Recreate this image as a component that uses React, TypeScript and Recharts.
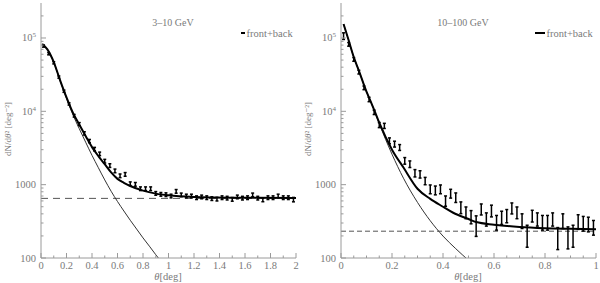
import React from 'react';
import { ComposedChart, Line, Scatter, XAxis, YAxis, ErrorBar, ReferenceLine } from 'recharts';

// ---------- data: 3-10 GeV ----------
const leftTheta = [0.02, 0.06, 0.10, 0.14, 0.18, 0.22, 0.26, 0.30, 0.34, 0.38, 0.42, 0.46, 0.50, 0.54, 0.58, 0.62, 0.66, 0.70, 0.74, 0.78, 0.82, 0.86, 0.90, 0.94, 0.98, 1.02, 1.06, 1.10, 1.14, 1.18, 1.22, 1.26, 1.30, 1.34, 1.38, 1.42, 1.46, 1.50, 1.54, 1.58, 1.62, 1.66, 1.70, 1.74, 1.78, 1.82, 1.86, 1.90, 1.94, 1.98];
const leftCounts = [77600, 61000, 45900, 29300, 18800, 12600, 8700, 6700, 5000, 3930, 3050, 2630, 2090, 1820, 1540, 1320, 1380, 1030, 1010, 880, 880, 880, 760, 738, 730, 700, 810, 725, 700, 700, 664, 680, 664, 645, 635, 664, 655, 630, 680, 655, 664, 725, 655, 620, 664, 664, 700, 664, 664, 625];
const leftErrDex = [0.015, 0.015, 0.015, 0.015, 0.015, 0.015, 0.018, 0.02, 0.022, 0.022, 0.024, 0.024, 0.025, 0.025, 0.025, 0.025, 0.025, 0.025, 0.025, 0.025, 0.025, 0.025, 0.025, 0.025, 0.025, 0.025, 0.025, 0.025, 0.025, 0.025, 0.025, 0.025, 0.025, 0.025, 0.025, 0.025, 0.025, 0.025, 0.025, 0.025, 0.025, 0.025, 0.025, 0.025, 0.025, 0.025, 0.025, 0.025, 0.025, 0.03];
const leftTotalTheta = [0.01, 0.05, 0.1, 0.15, 0.2, 0.25, 0.3, 0.35, 0.4, 0.45, 0.5, 0.55, 0.6, 0.65, 0.7, 0.8, 0.9, 1.0, 1.2, 1.5, 2.0];
const leftTotalModel = [83000, 70000, 47000, 26500, 15500, 9600, 6600, 4600, 3250, 2450, 1900, 1470, 1200, 1060, 960, 830, 755, 715, 680, 665, 660];
const leftPsfTheta = [0.01, 0.05, 0.1, 0.15, 0.2, 0.25, 0.3, 0.35, 0.4, 0.45, 0.5, 0.55, 0.6, 0.65, 0.7, 0.75, 0.8, 0.85, 0.9, 0.95];
const leftPsfModel = [83000, 70000, 47000, 26000, 15000, 9000, 5800, 3800, 2510, 1700, 1160, 813, 589, 437, 327, 248, 188, 145, 111, 86];
const leftBackground = 650;

// ---------- data: 10-100 GeV ----------
const rightTheta = [0.01, 0.03, 0.05, 0.07, 0.09, 0.11, 0.13, 0.15, 0.17, 0.19, 0.21, 0.23, 0.25, 0.27, 0.29, 0.31, 0.33, 0.35, 0.37, 0.39, 0.41, 0.43, 0.45, 0.47, 0.49, 0.51, 0.53, 0.55, 0.57, 0.59, 0.61, 0.63, 0.65, 0.67, 0.69, 0.71, 0.73, 0.75, 0.77, 0.79, 0.81, 0.83, 0.85, 0.87, 0.89, 0.91, 0.93, 0.95, 0.97, 0.99];
const rightCounts = [106000, 81900, 51000, 34200, 20900, 14500, 9690, 6500, 6330, 3960, 3570, 3210, 2110, 1900, 1430, 1380, 1120, 863, 834, 863, 597, 753, 664, 484, 413, 360, 272, 459, 335, 437, 302, 353, 372, 474, 413, 318, 198, 372, 335, 302, 302, 335, 184, 318, 188, 198, 309, 293, 286, 258];
const rightErrDex = [0.045, 0.025, 0.025, 0.025, 0.025, 0.03, 0.03, 0.035, 0.035, 0.04, 0.04, 0.04, 0.045, 0.045, 0.05, 0.05, 0.05, 0.06, 0.06, 0.06, 0.07, 0.06, 0.065, 0.08, 0.08, 0.09, 0.14, 0.075, 0.09, 0.08, 0.1, 0.09, 0.09, 0.075, 0.08, 0.1, 0.15, 0.08, 0.09, 0.1, 0.1, 0.09, 0.15, 0.1, 0.15, 0.15, 0.1, 0.1, 0.1, 0.1];
const rightTotalTheta = [0.01, 0.03, 0.05, 0.07, 0.1, 0.115, 0.13, 0.15, 0.2, 0.245, 0.3, 0.35, 0.4, 0.44, 0.5, 0.53, 0.6, 0.7, 0.8, 0.9, 1.0];
const rightTotalModel = [155000, 93000, 55000, 36000, 18500, 14000, 10500, 7000, 3000, 1710, 880, 640, 500, 414, 340, 309, 285, 265, 255, 250, 246];
const rightPsfTheta = [0.01, 0.03, 0.05, 0.07, 0.1, 0.115, 0.13, 0.15, 0.2, 0.245, 0.3, 0.35, 0.4, 0.45, 0.5];
const rightPsfModel = [155000, 93000, 55000, 36000, 18500, 14000, 10400, 6800, 2600, 1225, 573, 322, 199, 134, 93];
const rightBackground = 232;

// ---------- axis ticks ----------
const yMajor = [100, 1000, 10000, 100000];
const yTicks = [100, 200, 300, 400, 500, 600, 700, 800, 900, 1000, 2000, 3000, 4000, 5000, 6000, 7000, 8000, 9000, 10000, 20000, 30000, 40000, 50000, 60000, 70000, 80000, 90000, 100000, 200000];
const leftXTicks = [0, 0.1, 0.2, 0.3, 0.4, 0.5, 0.6, 0.7, 0.8, 0.9, 1, 1.1, 1.2, 1.3, 1.4, 1.5, 1.6, 1.7, 1.8, 1.9, 2];
const leftXLabels = [0, 0.2, 0.4, 0.6, 0.8, 1, 1.2, 1.4, 1.6, 1.8, 2];
const rightXTicks = [0, 0.05, 0.1, 0.15, 0.2, 0.25, 0.3, 0.35, 0.4, 0.45, 0.5, 0.55, 0.6, 0.65, 0.7, 0.75, 0.8, 0.85, 0.9, 0.95, 1];
const rightXLabels = [0, 0.2, 0.4, 0.6, 0.8, 1];

const W = 300;
const H = 283;
const GREY = '#9a9a9a';
const TEXT = '#7a7a7a';
const FONT = '"Liberation Serif", "DejaVu Serif", serif';

const pts = (xs: number[], ys: number[]) => xs.map((x, i) => ({ x, y: ys[i] }));
const errPts = (xs: number[], ys: number[], dex: number[]) =>
  xs.map((x, i) => {
    const f = Math.pow(10, dex[i]);
    return { x, y: ys[i], err: [ys[i] - ys[i] / f, ys[i] * f - ys[i]] };
  });

const yLabel = (v: number) => {
  if (v === 100000) return (<>10<tspan dy={-4} fontSize={7}>5</tspan></>);
  if (v === 10000) return (<>10<tspan dy={-4} fontSize={7}>4</tspan></>);
  return String(v);
};

const YTickLeft = (props: any) => {
  const { x, y, payload } = props;
  const v = payload.value;
  const major = yMajor.includes(v);
  return (
    <g>
      <line x1={x} x2={x + (major ? 5 : 2.5)} y1={y} y2={y} stroke={GREY} />
      {major && (
        <text x={x - 5} y={y} dy={3.5} textAnchor="end" fontSize={10.5} fill={TEXT} fontFamily={FONT}>
          {yLabel(v)}
        </text>
      )}
    </g>
  );
};

const YTickRight = (props: any) => {
  const { x, y, payload } = props;
  const major = yMajor.includes(payload.value);
  return <line x1={x} x2={x - (major ? 5 : 2.5)} y1={y} y2={y} stroke={GREY} />;
};

const makeXTickBottom = (labels: number[]) => (props: any) => {
  const { x, y, payload } = props;
  const v = payload.value;
  const major = labels.some((l) => Math.abs(l - v) < 1e-9);
  return (
    <g>
      <line x1={x} x2={x} y1={y} y2={y - (major ? 5 : 2.5)} stroke={GREY} />
      {major && (
        <text x={x} y={y + 11} textAnchor="middle" fontSize={10.5} fill={TEXT} fontFamily={FONT}>
          {String(v)}
        </text>
      )}
    </g>
  );
};

const makeXTickTop = (labels: number[]) => (props: any) => {
  const { x, y, payload } = props;
  const major = labels.some((l) => Math.abs(l - payload.value) < 1e-9);
  return <line x1={x} x2={x} y1={y} y2={y + (major ? 5 : 2.5)} stroke={GREY} />;
};

type PanelProps = {
  xMax: number;
  xTicks: number[];
  xLabels: number[];
  data: { x: number; y: number; err: number[] }[];
  total: { x: number; y: number }[];
  psf: { x: number; y: number }[];
  bg: number;
  dash: string;
  title: string;
  titleX: number;
  legendX1: number;
  legendX2: number;
};

const Panel = (p: PanelProps) => (
  <div style={{ position: 'relative', width: W, height: H }}>
    <ComposedChart width={W} height={H} margin={{ top: 3, right: 4, bottom: 0, left: 0 }}>
      <XAxis
        xAxisId="b"
        dataKey="x"
        type="number"
        domain={[0, p.xMax]}
        allowDataOverflow
        ticks={p.xTicks}
        interval={0}
        height={25}
        tickSize={0}
        tickMargin={0}
        tickLine={false}
        axisLine={{ stroke: GREY }}
        tick={makeXTickBottom(p.xLabels)}
      />
      <XAxis
        xAxisId="t"
        orientation="top"
        dataKey="x"
        type="number"
        domain={[0, p.xMax]}
        allowDataOverflow
        ticks={p.xTicks}
        interval={0}
        height={0}
        tickSize={0}
        tickMargin={0}
        tickLine={false}
        axisLine={{ stroke: GREY }}
        tick={makeXTickTop(p.xLabels)}
      />
      <YAxis
        yAxisId="l"
        type="number"
        scale="log"
        domain={[100, 300000]}
        allowDataOverflow
        ticks={yTicks}
        interval={0}
        width={41}
        tickSize={0}
        tickMargin={0}
        tickLine={false}
        axisLine={{ stroke: GREY }}
        tick={YTickLeft}
      />
      <YAxis
        yAxisId="r"
        orientation="right"
        type="number"
        scale="log"
        domain={[100, 300000]}
        allowDataOverflow
        ticks={yTicks}
        interval={0}
        width={0}
        tickSize={0}
        tickMargin={0}
        tickLine={false}
        axisLine={{ stroke: GREY }}
        tick={YTickRight}
      />
      <ReferenceLine xAxisId="b" yAxisId="l" y={p.bg} stroke="#555" strokeWidth={1} strokeDasharray={p.dash} />
      <Line xAxisId="b" yAxisId="l" data={p.psf} dataKey="y" type="monotone" dot={false} stroke="#333" strokeWidth={1} isAnimationActive={false} />
      <Line xAxisId="b" yAxisId="l" data={p.total} dataKey="y" type="monotone" dot={false} stroke="#000" strokeWidth={2} isAnimationActive={false} />
      <Scatter xAxisId="b" yAxisId="l" data={p.data} dataKey="y" shape={() => <g />} isAnimationActive={false}>
        <ErrorBar dataKey="err" direction="y" width={1.5} stroke="#000" strokeWidth={1.5} isAnimationActive={false} />
      </Scatter>
    </ComposedChart>
    <svg width={W} height={H} style={{ position: 'absolute', left: 0, top: 0, pointerEvents: 'none' }}>
      <text x={p.titleX} y={26} textAnchor="middle" fontSize={10} fill={TEXT} fontFamily={FONT}>{p.title}</text>
      <line x1={p.legendX1} x2={p.legendX2} y1={33} y2={33} stroke="#000" strokeWidth={2} />
      <text x={p.legendX2 + 1.5} y={36.5} fontSize={10.5} fill={TEXT} fontFamily={FONT}>front+back</text>
      <text transform="translate(11,129) rotate(-90)" textAnchor="middle" fontSize={9} fill={TEXT} fontFamily={FONT}>
        dN/d<tspan fontStyle="italic">θ</tspan>² [deg⁻²]
      </text>
      <text x={168} y={280} textAnchor="middle" fontSize={10.5} fill={TEXT} fontFamily={FONT}>
        <tspan fontStyle="italic">θ</tspan>[deg]
      </text>
    </svg>
  </div>
);

export default function App() {
  return (
    <div style={{ position: 'absolute', left: 0, top: 0, width: 600, height: 283, display: 'flex', background: '#fff' }}>
      <Panel
        xMax={2}
        xTicks={leftXTicks}
        xLabels={leftXLabels}
        data={errPts(leftTheta, leftCounts, leftErrDex)}
        total={pts(leftTotalTheta, leftTotalModel)}
        psf={pts(leftPsfTheta, leftPsfModel)}
        bg={leftBackground}
        dash="7 5"
        title="3–10 GeV"
        titleX={173}
        legendX1={241}
        legendX2={245}
      />
      <Panel
        xMax={1}
        xTicks={rightXTicks}
        xLabels={rightXLabels}
        data={errPts(rightTheta, rightCounts, rightErrDex)}
        total={pts(rightTotalTheta, rightTotalModel)}
        psf={pts(rightPsfTheta, rightPsfModel)}
        bg={rightBackground}
        dash="5 3"
        title="10–100 GeV"
        titleX={163}
        legendX1={235}
        legendX2={245}
      />
    </div>
  );
}
